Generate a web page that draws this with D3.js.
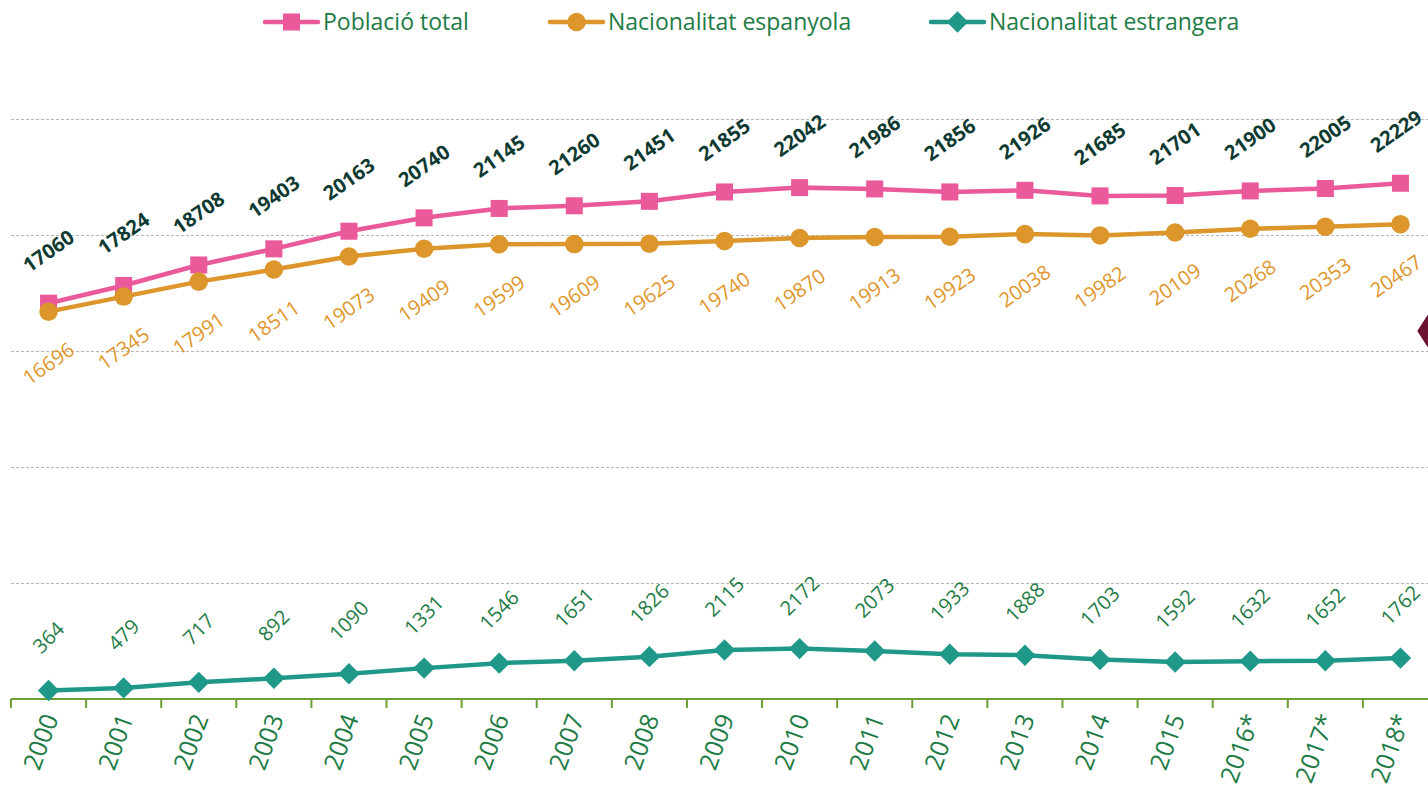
<!DOCTYPE html>
<html>
<head>
<meta charset="utf-8">
<script src="https://cdn.jsdelivr.net/npm/d3@7"></script>
<style>
  body { margin: 0; background: #fff; }
  svg { display: block; font-family: "Open Sans", sans-serif; }
</style>
</head>
<body>
<svg id="chart" width="1428" height="793"></svg>
<script>
// years on the x axis (last three are provisional)
var years = ["2000","2001","2002","2003","2004","2005","2006","2007","2008","2009",
             "2010","2011","2012","2013","2014","2015","2016*","2017*","2018*"];

var total = [17060,17824,18708,19403,20163,20740,21145,21260,21451,21855,
             22042,21986,21856,21926,21685,21701,21900,22005,22229];

var spanish = [16696,17345,17991,18511,19073,19409,19599,19609,19625,19740,
               19870,19913,19923,20038,19982,20109,20268,20353,20467];

var foreign = [364,479,717,892,1090,1331,1546,1651,1826,2115,
               2172,2073,1933,1888,1703,1592,1632,1652,1762];

var gridTicks = [5000,10000,15000,20000,25000];

var svg = d3.select("#chart");
var W = 1428;

var x = d3.scaleBand().domain(years).range([11, 1438]);
var y = d3.scaleLinear().domain([0, 25000]).range([699, 119]);
function cx(d) { return x(d) + x.bandwidth() / 2; }

//gridlines
svg.append("g").selectAll("line")
  .data(gridTicks)
  .join("line")
  .attr("x1", 11).attr("x2", W)
  .attr("y1", function(d) { return Math.round(y(d)) + 0.5; })
  .attr("y2", function(d) { return Math.round(y(d)) + 0.5; })
  .style("stroke", "#b8b8b8")
  .style("stroke-width", 1)
  .style("stroke-dasharray", "3,2");

// x axis, ticks between categories
var axisG = svg.append("g");
axisG.append("line")
  .attr("x1", 11).attr("x2", W)
  .attr("y1", y(0)).attr("y2", y(0))
  .style("stroke", "#6f9e34").style("stroke-width", 2);
axisG.selectAll("line.tick")
  .data(years)
  .join("line")
  .attr("class", "tick")
  .attr("x1", function(d) { return x(d); })
  .attr("x2", function(d) { return x(d); })
  .attr("y1", y(0)).attr("y2", y(0) + 9)
  .style("stroke", "#6f9e34").style("stroke-width", 2);

axisG.selectAll("text")
  .data(years)
  .join("text")
  .attr("transform", function(d) { return "translate(" + (cx(d) + 2) + "," + (y(0) + 16) + ") rotate(-70)"; })
  .attr("text-anchor", "end")
  .attr("dy", "0.35em")
  .style("font-size", "25px")
  .style("fill", "#1e7b46")
  .text(function(d) { return d; });

// decorative shape cut at the right edge
var hex = d3.range(6).map(function(k) {
  var a = k * Math.PI / 3;
  return [W + 10 + 19 * Math.cos(a), 331 + 17 * Math.sin(a)];
});
svg.append("path")
  .attr("d", d3.line().curve(d3.curveLinearClosed)(hex))
  .style("fill", "#6d1232")
  .style("stroke", "#6d1232")
  .style("stroke-width", 3)
  .style("stroke-linejoin", "round");

var line = d3.line()
  .x(function(d, i) { return cx(years[i]); })
  .y(function(d) { return y(d); });

var series = [
  { name: "Població total", values: total, color: "#ea5a9b", symbol: d3.symbolSquare, size: 290, turn: 0,
    labelColor: "#0e3a32", weight: "bold", off: -52, rot: -35 },
  { name: "Nacionalitat espanyola", values: spanish, color: "#dc962b", symbol: d3.symbolCircle, size: 270, turn: 0,
    labelColor: "#e0952b", weight: "normal", off: 52, rot: -35 },
  { name: "Nacionalitat estrangera", values: foreign, color: "#1f988a", symbol: d3.symbolSquare, size: 230, turn: 45,
    labelColor: "#1e7b46", weight: "normal", off: -53, rot: -45 }
];

series.forEach(function(s) {
  var g = svg.append("g");
  g.append("path")
    .datum(s.values)
    .attr("d", line)
    .style("fill", "none")
    .style("stroke", s.color)
    .style("stroke-width", 4.5);

  g.selectAll("path.pt")
    .data(s.values)
    .join("path")
    .attr("class", "pt")
    .attr("d", d3.symbol().type(s.symbol).size(s.size))
    .attr("transform", function(d, i) { return "translate(" + cx(years[i]) + "," + y(d) + ") rotate(" + s.turn + ")"; })
    .style("fill", s.color);

  g.selectAll("text")
    .data(s.values)
    .join("text")
    .attr("transform", function(d, i) {
      return "translate(" + cx(years[i]) + "," + (y(d) + s.off) + ") rotate(" + s.rot + ")";
    })
    .attr("text-anchor", "middle")
    .attr("dy", "0.35em")
    .style("font-size", "20px")
    .style("font-weight", s.weight)
    .style("fill", s.labelColor)
    .text(function(d) { return d; })
    .each(function(d, i) {
      // keep labels at the right edge inside the picture
      var b = this.getBoundingClientRect();
      var over = b.right - (W - 1);
      if (over > 0) {
        d3.select(this).attr("transform",
          "translate(" + (cx(years[i]) - over) + "," + (y(d) + s.off) + ") rotate(" + s.rot + ")");
      }
    });
});

// legend
var legendX = [265, 550, 931];
var leg = svg.append("g").selectAll("g")
  .data(series)
  .join("g")
  .attr("transform", function(d, i) { return "translate(" + legendX[i] + ",22)"; });

leg.append("line")
  .attr("x1", 0).attr("x2", 53)
  .style("stroke", function(d) { return d.color; })
  .style("stroke-width", 4.5)
  .style("stroke-linecap", "round");
leg.append("path")
  .attr("d", function(d) { return d3.symbol().type(d.symbol).size(d.size)(); })
  .attr("transform", function(d) { return "translate(26.5,0) rotate(" + d.turn + ")"; })
  .style("fill", function(d) { return d.color; });
leg.append("text")
  .attr("x", 58)
  .attr("dy", "0.35em")
  .style("font-size", "23px")
  .style("fill", "#1e7b46")
  .text(function(d) { return d.name; });
</script>
</body>
</html>
